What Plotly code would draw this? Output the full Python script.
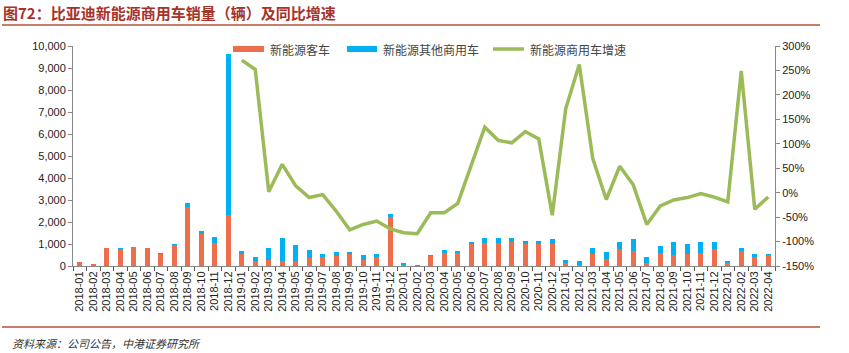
import plotly.graph_objects as go

months = [f"{y}-{m:02d}" for y in range(2018, 2023) for m in range(1, 13)][:52]

bus = [170, 100, 830, 800, 850, 800, 570, 970, 2680, 1440, 1030, 2320,
       530, 230, 270, 210, 210, 360, 420, 470, 590, 290, 410, 2210,
       90, 10, 470, 610, 610, 980, 1030, 1030, 1110, 1020, 1020, 980,
       150, 60, 530, 320, 760, 680, 120, 570, 480, 545, 570, 760,
       120, 670, 390, 500]
other = [0, 0, 0, 10, 0, 0, 20, 30, 200, 150, 290, 7320,
         140, 180, 560, 1050, 730, 370, 125, 150, 30, 230, 135, 170,
         10, 30, 10, 120, 90, 110, 260, 230, 160, 130, 100, 250,
         140, 170, 290, 300, 350, 550, 290, 320, 600, 470, 520, 350,
         120, 130, 140, 45]
growth = [None] * 12 + [271, 252, 2, 58, 14, -10, -4, -38, -76, -65, -58, -74,
          -82, -84, -41, -41, -22, 54, 134, 107, 102, 125, 110, -46,
          172, 262, 70, -14, 54, 16, -65, -27, -15, -10, -2, -9,
          -19, 249, -34, -9]

left_ticks = [0, 1000, 2000, 3000, 4000, 5000, 6000, 7000, 8000, 9000, 10000]
right_ticks = [-150, -100, -50, 0, 50, 100, 150, 200, 250, 300]
right_labels = [f"{v}%" for v in right_ticks]
names = ["新能源客车", "新能源其他商用车", "新能源商用车增速"]

ORANGE = "#EE6E4B"
BLUE = "#00B0F0"
GREEN = "#9BBB59"
FONT = "Liberation Sans, Arial, Noto Sans CJK SC"

fig = go.Figure()
fig.add_trace(go.Bar(x=months, y=bus, name=names[0], marker_color=ORANGE,
                     marker_line_width=0))
fig.add_trace(go.Bar(x=months, y=other, name=names[1], marker_color=BLUE,
                     marker_line_width=0))
fig.add_trace(go.Scatter(x=months, y=growth, name=names[2], yaxis="y2",
                         mode="lines", line=dict(color=GREEN, width=3.5),
                         connectgaps=False))

PW, PH = 702, 220
def px(x):
    return (x - 73) / PW
def py(y):
    return (266 - y) / PH

fig.update_layout(
    width=849, height=353,
    margin=dict(l=73, r=74, t=46, b=87),
    paper_bgcolor="white", plot_bgcolor="white",
    barmode="stack", bargap=0.62,
    font=dict(family=FONT, size=11, color="#222"),
    showlegend=False,
    xaxis=dict(type="category", tickangle=-90, ticks="outside", tickson="boundaries",
               ticklen=4, tickcolor="#555", showline=True, linecolor="#888",
               linewidth=1, showgrid=False, tickfont=dict(size=11, color="#222")),
    yaxis=dict(range=[0, 10000], tickvals=left_ticks, tickformat=",d",
               ticks="outside", ticklen=4, tickcolor="#888", showline=True,
               linecolor="#888", linewidth=1, showgrid=False, zeroline=False,
               tickfont=dict(size=11, color="#222")),
    yaxis2=dict(range=[-150, 300], tickmode="array", tickvals=right_ticks,
                ticktext=right_labels,
                overlaying="y", side="right", ticks="outside", ticklen=4,
                tickcolor="#888", showline=True, linecolor="#888", linewidth=1,
                showgrid=False, zeroline=False,
                tickfont=dict(size=11, color="#222")),
)

# legend drawn manually (wide bar swatches like the reference)
leg = [(233, 264, ORANGE, "rect", names[0]),
       (347, 377, BLUE, "rect", names[1]),
       (493, 524, GREEN, "line", names[2])]
for x0, x1, col, kind, label in leg:
    if kind == "rect":
        fig.add_shape(type="rect", xref="paper", yref="paper",
                      x0=px(x0), x1=px(x1), y0=py(52), y1=py(46),
                      fillcolor=col, line_width=0)
    else:
        fig.add_shape(type="line", xref="paper", yref="paper",
                      x0=px(x0), x1=px(x1), y0=py(49), y1=py(49),
                      line=dict(color=col, width=3.5))
    fig.add_annotation(text=label, xref="paper", yref="paper",
                       x=px(x1 + 4), y=py(49), xanchor="left", yanchor="middle",
                       showarrow=False,
                       font=dict(family="Noto Sans CJK SC", size=12, color="#444"))

fig.add_annotation(text="<b>图72：比亚迪新能源商用车销量（辆）及同比增速</b>",
                   xref="paper", yref="paper", x=px(1), y=py(12),
                   xanchor="left", yanchor="middle", showarrow=False,
                   font=dict(family="Noto Sans CJK SC", size=15, color="#A8322A"))
fig.add_annotation(text="<i>资料来源：公司公告，中港证券研究所</i>",
                   xref="paper", yref="paper", x=px(10), y=py(343),
                   xanchor="left", yanchor="middle", showarrow=False,
                   font=dict(family="Noto Sans CJK SC", size=11, color="#333"))
for yy in [25, 327]:
    fig.add_shape(type="line", xref="paper", yref="paper",
                  x0=px(2), x1=px(820),
                  y0=py(yy), y1=py(yy),
                  line=dict(color="#B5553A", width=1.5))

fig.write_html("out.html")
